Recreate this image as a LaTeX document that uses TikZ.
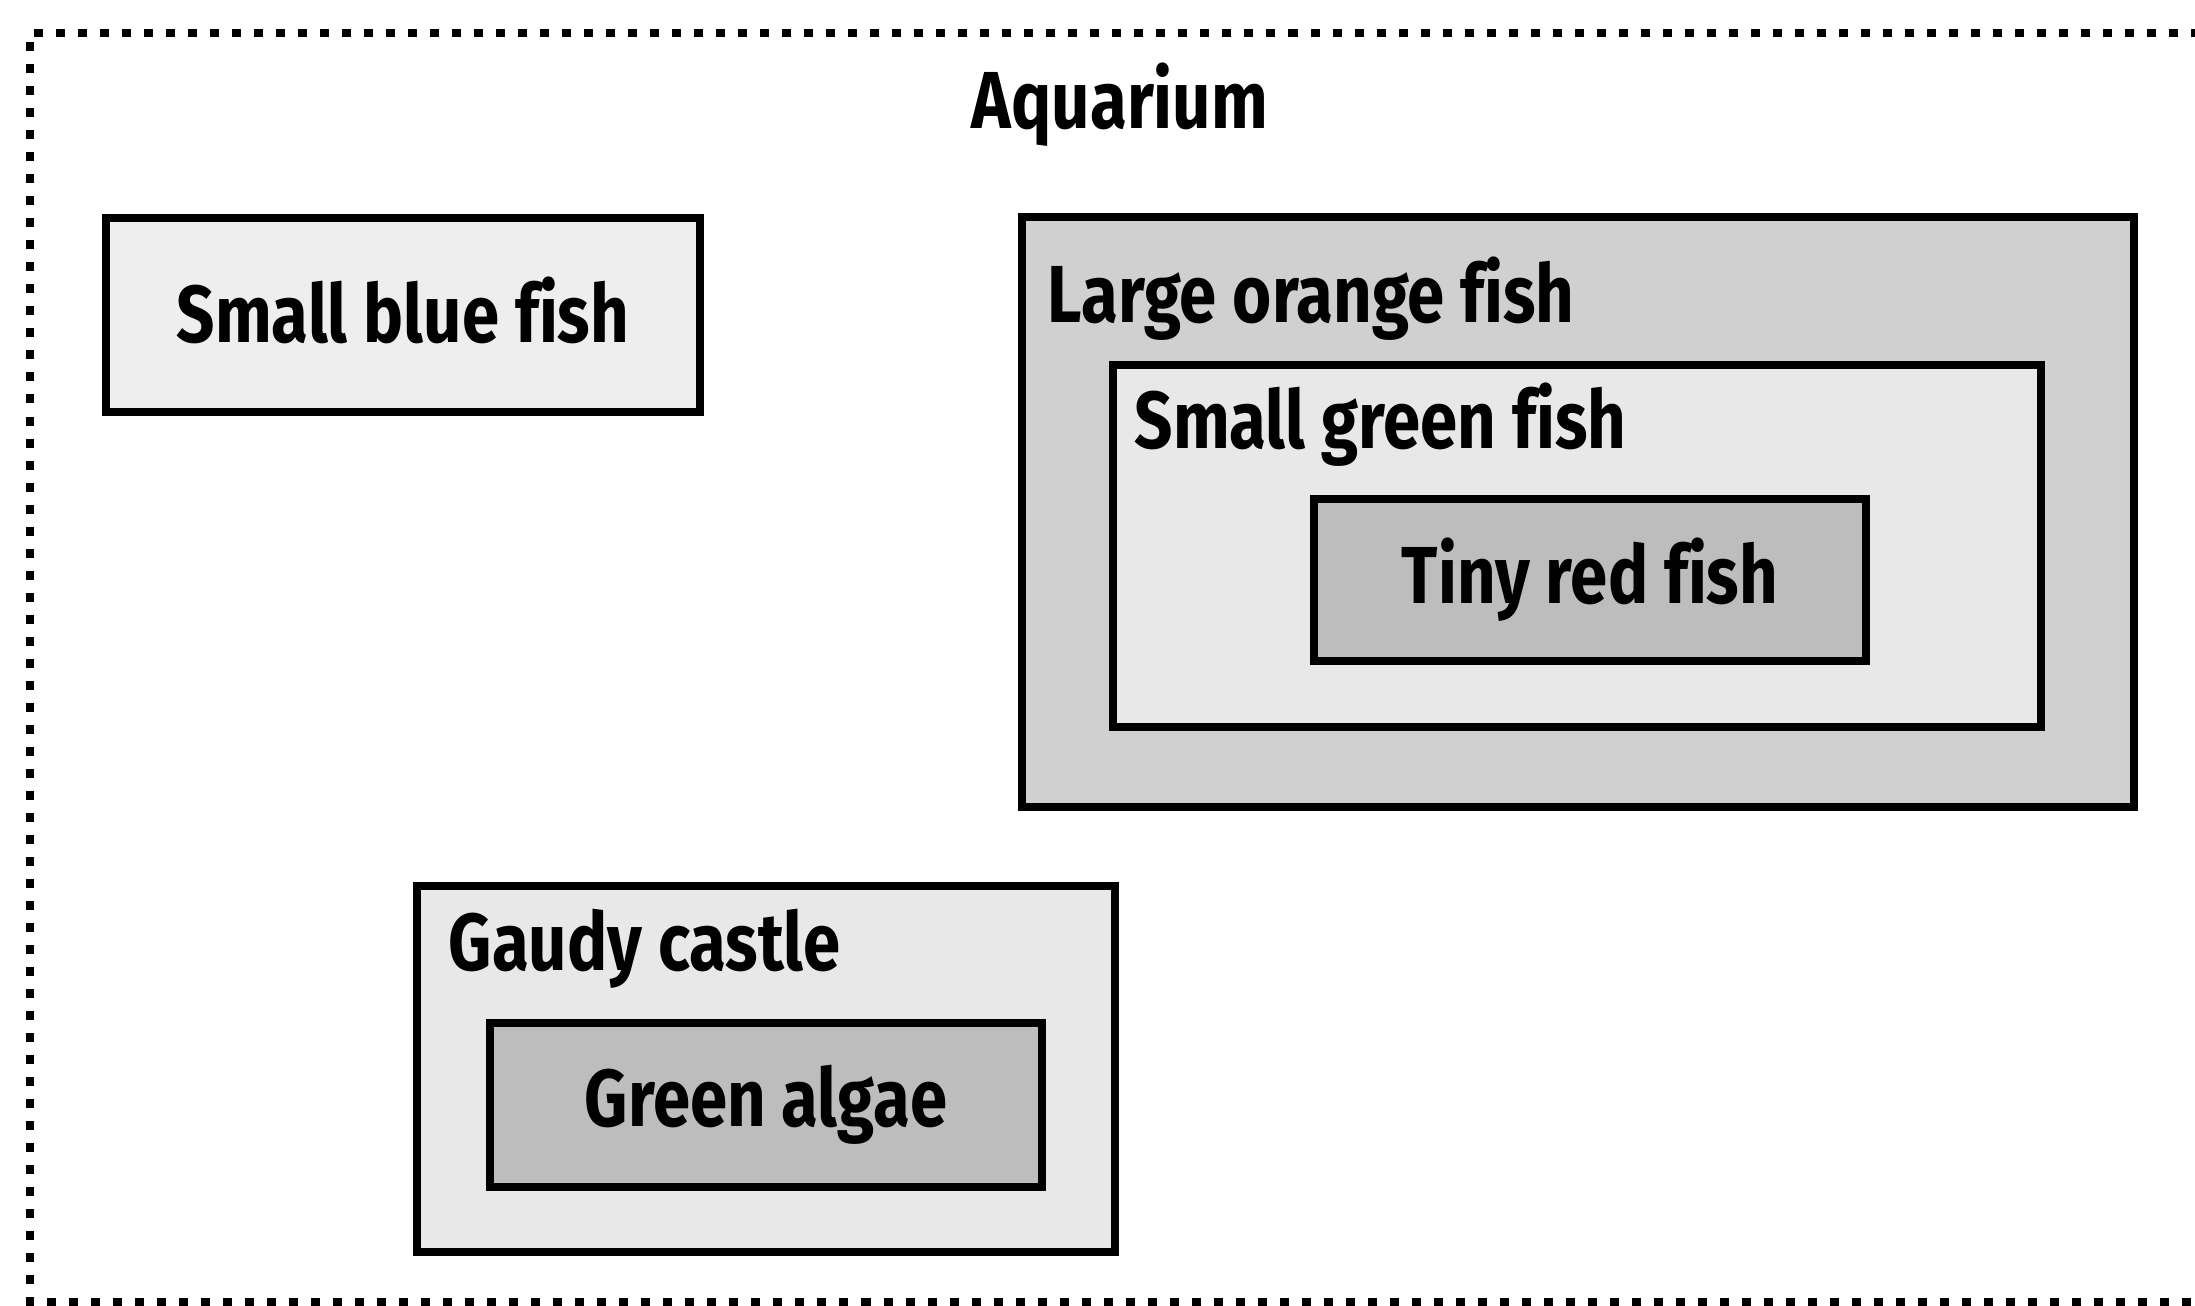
\documentclass[tikz,border=0pt]{standalone}
\usepackage{fontspec}
\setmainfont{Fira Sans}[FakeStretch=0.83, Ligatures=NoCommon]
\usetikzlibrary{positioning}
\definecolor{shadeA}{HTML}{EEEEEE}
\definecolor{shadeB}{HTML}{D0D0D0}
\definecolor{shadeC}{HTML}{E8E8E8}
\definecolor{shadeD}{HTML}{BDBDBD}
\tikzset{
  fishbox/.style={draw=black, line width=0.08cm, rectangle, inner sep=0pt},
  boxtext/.style={font=\bfseries\fontsize{23}{27}\selectfont, inner sep=0pt},
  tankline/.style={line width=0.075cm, dash pattern=on 0.09cm off 0.13cm},
}
\begin{document}
\begin{tikzpicture}[x=0.01cm, y=-0.01cm]
\useasboundingbox (0,0) rectangle (2195,1305);
\draw[tankline] (2200,33) -- (30,33) -- (30,1302) -- (2200,1302);
\node[boxtext] (aquarium) at (1120,105) {Aquarium};

\node[fishbox, fill=shadeA, minimum width=5.94cm, minimum height=1.94cm] (blue) at (403,315) {};
\node[boxtext] (bluetext) at ([yshift=0.05cm]blue.center) {Small blue fish};

\node[fishbox, fill=shadeB, minimum width=11.11cm, minimum height=5.89cm] (orange) at (1578,512) {};
\node[boxtext, anchor=base west] (orangetext) at (1047,322) {Large orange fish};
\node[fishbox, fill=shadeC, minimum width=9.28cm, minimum height=3.62cm] (green) at (1577,546) {};
\node[boxtext, anchor=base west] (greentext) at (1134,448) {Small green fish};
\node[fishbox, fill=shadeD, minimum width=5.51cm, minimum height=1.61cm] (red) at (1590,580) {};
\node[boxtext] (redtext) at (red.center) {Tiny red fish};

\node[fishbox, fill=shadeC, minimum width=6.98cm, minimum height=3.66cm] (castle) at (766,1069) {};
\node[boxtext, anchor=base west] (castletext) at (448,970) {Gaudy castle};
\node[fishbox, fill=shadeD, minimum width=5.51cm, minimum height=1.63cm] (algae) at (766,1105) {};
\node[boxtext] (algaetext) at (algae.center) {Green algae};
\end{tikzpicture}
\end{document}
